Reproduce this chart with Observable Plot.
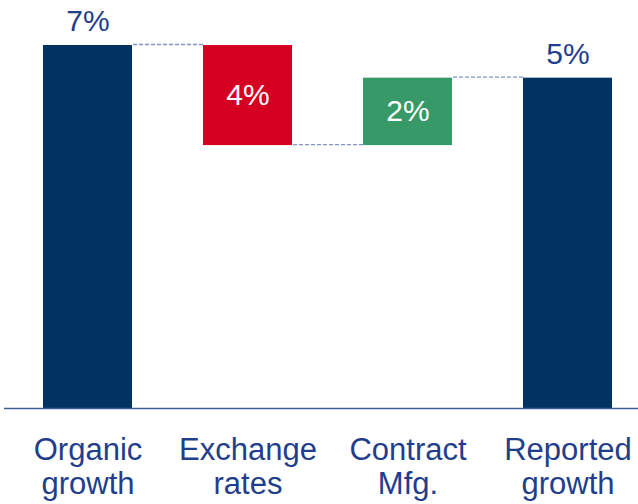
<!DOCTYPE html>
<html>
<head>
<meta charset="utf-8">
<script src="https://cdn.jsdelivr.net/npm/d3@7"></script>
<script src="https://cdn.jsdelivr.net/npm/@observablehq/plot@0.6"></script>
<style>
  html, body { margin: 0; padding: 0; background: #fff; }
  #chart svg { display: block; }
</style>
</head>
<body>
<div id="chart"></div>
<script>
// Waterfall categories (line breaks as in the reference)
const categories = ["Organic\ngrowth", "Exchange\nrates", "Contract\nMfg.", "Reported\ngrowth"];
// Bar extents (percentage-point scale of the drawing)
const barFrom = [0, 7.0, 5.07, 0];
const barTo   = [7.0, 5.07, 6.37, 6.37];
// Step kinds
const kinds = ["total", "decrease", "increase", "total"];
// Printed value labels
const valueLabels = ["7%", "4%", "2%", "5%"];
const labelInside = [false, true, true, false];

const bars = categories.map((c, i) => ({
  cat: c, from: barFrom[i], to: barTo[i], kind: kinds[i],
  label: valueLabels[i], inside: labelInside[i],
  mid: (barFrom[i] + barTo[i]) / 2
}));
// connector spans the gap: from the start of the next band to the end of the previous one
const connectors = categories.slice(0, -1).map((c, i) => ({
  next: categories[i + 1], prev: c, level: barTo[i]
}));

const font = "Liberation Sans, Arial, Helvetica, sans-serif";
const textBlue = "#1f3e8c";

const chart = Plot.plot({
  width: 638,
  height: 504,
  marginTop: 45,
  marginBottom: 96,
  marginLeft: 4,
  marginRight: 0,
  style: {fontFamily: font, background: "#fff"},
  x: {domain: categories, range: [41, 613], paddingInner: 0.444, paddingOuter: 0, axis: null},
  y: {domain: [0, 7], axis: null},
  color: {domain: ["total", "decrease", "increase"], range: ["#003262", "#d50021", "#379968"]},
  marks: [
    Plot.ruleY(connectors, {
      y: "level", x1: "next", x2: "prev",
      stroke: "#7f96c6", strokeWidth: 1.3, strokeDasharray: "4,2", dy: -1
    }),
    Plot.barY(bars, {x: "cat", y1: "from", y2: "to", fill: "kind"}),
    Plot.ruleY([0], {stroke: "#3d5c9e", strokeWidth: 1.5}),
    Plot.text(bars.filter(d => !d.inside), {
      x: "cat", y: "to", text: "label", dy: -24,
      fill: textBlue, fontSize: 30, fontFamily: font
    }),
    Plot.text(bars.filter(d => d.inside), {
      x: "cat", y: "mid", text: "label",
      fill: "white", fontSize: 30, fontFamily: font
    }),
    Plot.text(bars, {
      x: "cat", y: 0, text: "cat", dy: 27, lineAnchor: "top", lineHeight: 1.1,
      fill: textBlue, fontSize: 31, fontFamily: font
    })
  ]
});
document.getElementById("chart").appendChild(chart);
</script>
</body>
</html>
